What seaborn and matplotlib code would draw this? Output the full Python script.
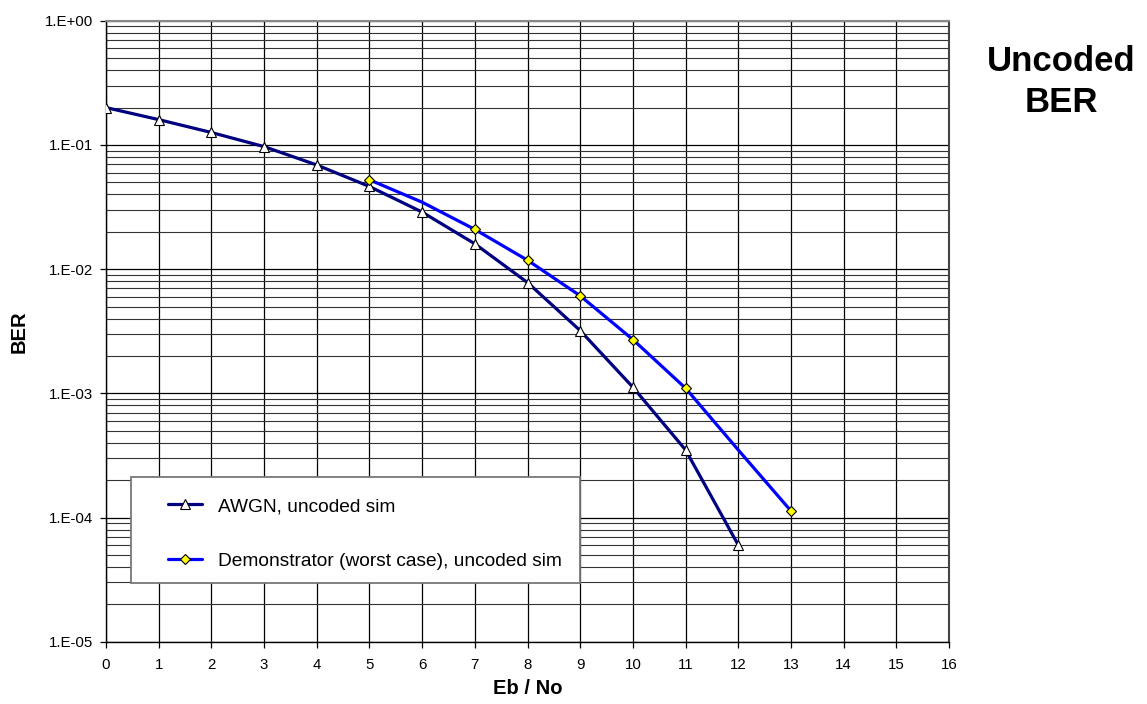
import numpy as np
import pandas as pd
import matplotlib
matplotlib.use("Agg")
import matplotlib.pyplot as plt
import seaborn as sns
from matplotlib.ticker import FixedLocator, NullFormatter
from matplotlib.patches import Rectangle

sns.set_theme(style="white")
plt.rcParams['font.family'] = ['Liberation Sans', 'DejaVu Sans']
plt.rcParams['text.color'] = 'black'
plt.rcParams['axes.labelcolor'] = 'black'
plt.rcParams['xtick.color'] = 'black'
plt.rcParams['ytick.color'] = 'black'

# ---- data ----
awgn_x = [0, 1, 2, 3, 4, 5, 6, 7, 8, 9, 10, 11, 12]
awgn_ber = [0.20, 0.16, 0.126, 0.097, 0.069, 0.0463, 0.0288, 0.016, 0.0078, 0.0032, 0.00112, 0.00035, 0.00006]
demo_x = [5, 6, 7, 8, 9, 10, 11, 12, 13]
demo_ber = [0.0524, 0.0346, 0.0209, 0.0118, 0.0061, 0.00271, 0.0011, 0.00035, 0.000113]
demo_marked = [0, 2, 3, 4, 5, 6, 8]

x_ticks = list(range(0, 17))
y_ticks = [1e-5, 1e-4, 1e-3, 1e-2, 1e-1, 1e0]
y_tick_labels = ["1.E-05", "1.E-04", "1.E-03", "1.E-02", "1.E-01", "1.E+00"]
label_awgn = "AWGN, uncoded sim"
label_demo = "Demonstrator (worst case), uncoded sim"
title = "Uncoded\nBER"

fig = plt.figure(figsize=(11.47, 7.04), dpi=100)
ax = fig.add_axes([0.0924, 0.0885, 0.735, 0.882])
ax.set_yscale("log")
ax.set_xlim(0, 16)
ax.set_ylim(1e-5, 1)

# grid
ax.xaxis.set_major_locator(FixedLocator(x_ticks))
ax.yaxis.set_major_locator(FixedLocator(y_ticks))
minor = [m * 10.0 ** e for e in range(-5, 0) for m in range(2, 10)]
ax.yaxis.set_minor_locator(FixedLocator(minor))
ax.yaxis.set_minor_formatter(NullFormatter())
ax.grid(True, which="major", axis="both", color="black", linewidth=0.9)
ax.grid(True, which="minor", axis="y", color="#333333", linewidth=0.8)
ax.set_axisbelow(True)

df_a = pd.DataFrame({"x": awgn_x, "y": awgn_ber})
df_d = pd.DataFrame({"x": demo_x, "y": demo_ber})
sns.lineplot(data=df_a, x="x", y="y", ax=ax, color="#000080", linewidth=2.3,
             marker="^", markersize=7, markerfacecolor="white",
             markeredgecolor="black", markeredgewidth=0.8,
             sort=False, estimator=None, label=label_awgn, zorder=3)
sns.lineplot(data=df_d, x="x", y="y", ax=ax, color="#0000FF", linewidth=2.3,
             marker="D", markersize=5.5, markerfacecolor="#FFFF00",
             markeredgecolor="black", markeredgewidth=0.8, markevery=demo_marked,
             sort=False, estimator=None, label=label_demo, zorder=4)

ax.set_yticklabels(y_tick_labels)
ax.set_xticklabels([str(t) for t in x_ticks])
ax.tick_params(axis="both", which="major", labelsize=10.8, length=4, width=0.9,
               color="black", direction="out", pad=5, left=True, bottom=True)
ax.tick_params(axis="x", which="major", pad=8)
ax.tick_params(axis="y", which="minor", length=0, left=False)
ax.set_xlabel("Eb / No", fontsize=14.5, fontweight="bold", labelpad=5)
ax.set_ylabel("BER", fontsize=14.5, fontweight="bold", labelpad=12)

for s in ["left", "bottom"]:
    ax.spines[s].set_color("black")
    ax.spines[s].set_linewidth(1.0)
ax.spines["right"].set_color("#444444")
ax.spines["right"].set_linewidth(1.5)
ax.spines["top"].set_color("#888888")
ax.spines["top"].set_linewidth(1.5)

# legend box
box = Rectangle((0.0297, 0.0945), 0.533, 0.171, transform=ax.transAxes,
                facecolor="white", edgecolor="#777777", linewidth=1.3, zorder=5)
ax.add_patch(box)
leg = ax.legend(loc="upper left", bbox_to_anchor=(0.0735, 0.232),
                fontsize=13.8, frameon=False, borderaxespad=0, borderpad=0,
                handlelength=1.8, handletextpad=0.8, labelspacing=1.95)
leg.set_zorder(6)

fig.text(0.925, 0.884, title, ha="center", va="center", fontsize=25,
         fontweight="bold", linespacing=1.3)

fig.savefig("out.png", dpi=100, facecolor="white")
